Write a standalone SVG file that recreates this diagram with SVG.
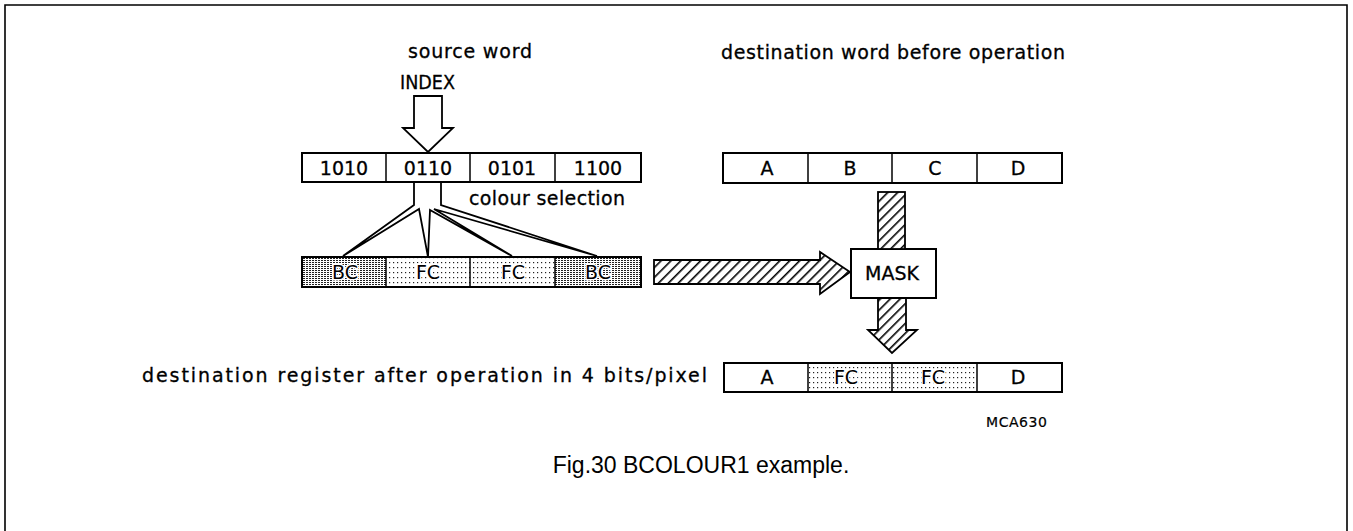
<svg xmlns="http://www.w3.org/2000/svg" width="1353" height="531" viewBox="0 0 1353 531">
<defs>
<pattern id="hatch" width="7" height="7" patternUnits="userSpaceOnUse" patternTransform="rotate(45)">
<rect width="7" height="7" fill="#fff"/>
<rect x="0" y="0" width="1.6" height="7" fill="#000"/>
</pattern>
<pattern id="dark" width="3" height="2" patternUnits="userSpaceOnUse">
<rect width="3" height="2" fill="#fff"/>
<rect x="0" y="0" width="2" height="1" fill="#222"/>
</pattern>
<pattern id="light" width="4" height="5" patternUnits="userSpaceOnUse">
<rect width="4" height="5" fill="#fff"/>
<rect x="1" y="2" width="1.2" height="1.2" fill="#222"/>
</pattern>
</defs>
<style>
.t{font-family:"DejaVu Sans","Liberation Sans",sans-serif;font-size:19px;fill:#000;stroke:#000;stroke-width:0.3}
.c{text-anchor:middle}
.box{fill:#fff;stroke:#000;stroke-width:2}
.div{stroke:#000;stroke-width:1.5}
.ol{stroke:#000;stroke-width:1.8;stroke-linejoin:miter}
.halo{stroke:#fff;stroke-width:3;paint-order:stroke}
</style>
<rect width="1353" height="531" fill="#fff"/>
<path d="M5,533 V5 H1347 V533" fill="none" stroke="#000" stroke-width="1.6"/>

<g id="source-word-label">
<text class="t" x="408" y="58" textLength="124" lengthAdjust="spacing">source word</text>
</g>
<g id="index">
<text class="t" x="400" y="89" textLength="55" lengthAdjust="spacingAndGlyphs">INDEX</text>
<polygon class="ol" style="fill:#fff" points="414,96 442,96 442,128 453,128 428,152 403,128 414,128"/>
</g>
<g id="source-register">
<rect class="box" x="302" y="153" width="339" height="29"/>
<line class="div" x1="386" y1="153" x2="386" y2="182"/>
<line class="div" x1="470" y1="153" x2="470" y2="182"/>
<line class="div" x1="555" y1="153" x2="555" y2="182"/>
<text class="t c" x="344" y="175">1010</text>
<text class="t c" x="428" y="175">0110</text>
<text class="t c" x="512" y="175">0101</text>
<text class="t c" x="598" y="175">1100</text>
</g>
<g id="colour-selection-label">
<text class="t" x="469" y="205" textLength="156" lengthAdjust="spacing">colour selection</text>
</g>
<g id="colour-register">
<rect x="302" y="257" width="84" height="30" fill="url(#dark)"/>
<rect x="386" y="257" width="84" height="30" fill="url(#light)"/>
<rect x="470" y="257" width="85" height="30" fill="url(#light)"/>
<rect x="555" y="257" width="86" height="30" fill="url(#dark)"/>
<rect x="302" y="257" width="339" height="30" fill="none" stroke="#000" stroke-width="2"/>
<line class="div" x1="386" y1="257" x2="386" y2="287"/>
<line class="div" x1="470" y1="257" x2="470" y2="287"/>
<line class="div" x1="555" y1="257" x2="555" y2="287"/>
<text class="t c halo" x="345" y="279">BC</text>
<text class="t c halo" x="428" y="279">FC</text>
<text class="t c halo" x="513" y="279">FC</text>
<text class="t c halo" x="598" y="279">BC</text>
</g>
<g id="dest-before-label">
<text class="t" x="721" y="59" textLength="344" lengthAdjust="spacing">destination word before operation</text>
</g>
<g id="dest-before-register">
<rect class="box" x="723" y="153" width="339" height="30"/>
<line class="div" x1="808" y1="153" x2="808" y2="183"/>
<line class="div" x1="892" y1="153" x2="892" y2="183"/>
<line class="div" x1="977" y1="153" x2="977" y2="183"/>
<text class="t c" x="767" y="175">A</text>
<text class="t c" x="850" y="175">B</text>
<text class="t c" x="935" y="175">C</text>
<text class="t c" x="1018" y="175">D</text>
</g>
<g id="mask">
<rect class="box" x="851" y="249" width="85" height="49"/>
<text class="t c" x="892" y="280">MASK</text>
</g>
<g id="dest-after-label">
<text class="t" x="142" y="382" textLength="565" lengthAdjust="spacing">destination register after operation in 4 bits/pixel</text>
</g>
<g id="dest-after-register">
<rect x="808" y="363" width="84" height="29" fill="url(#light)"/>
<rect x="892" y="363" width="85" height="29" fill="url(#light)"/>
<rect x="724" y="363" width="338" height="29" fill="none" stroke="#000" stroke-width="2"/>
<line class="div" x1="808" y1="363" x2="808" y2="392"/>
<line class="div" x1="892" y1="363" x2="892" y2="392"/>
<line class="div" x1="977" y1="363" x2="977" y2="392"/>
<text class="t c" x="767" y="384">A</text>
<text class="t c halo" x="846" y="384">FC</text>
<text class="t c halo" x="933" y="384">FC</text>
<text class="t c" x="1018" y="384">D</text>
</g>
<g id="connectors">
<path class="ol" style="fill:none" d="M414,182 V205 L343,256 L419,209 L428,257 L430,210 L512,256 L434,209 L597,256 L441,205 V182"/>
<polygon class="ol" style="fill:url(#hatch)" points="654,260 820,260 820,252 850,272 820,294 820,284 654,284"/>
<rect class="ol" style="fill:url(#hatch)" x="878" y="192" width="27" height="57"/>
<polygon class="ol" style="fill:url(#hatch)" points="878,298 906,298 906,330 917,330 892,353 868,330 878,330"/>
</g>
<g id="ref-code">
<text class="t" x="986" y="427" style="font-size:14px;stroke-width:0.2" textLength="61" lengthAdjust="spacing">MCA630</text>
</g>
<g id="caption">
<text x="701" y="473" text-anchor="middle" style="font-family:'Liberation Sans',Arial,sans-serif;font-size:23px">Fig.30 BCOLOUR1 example.</text>
</g>
</svg>
